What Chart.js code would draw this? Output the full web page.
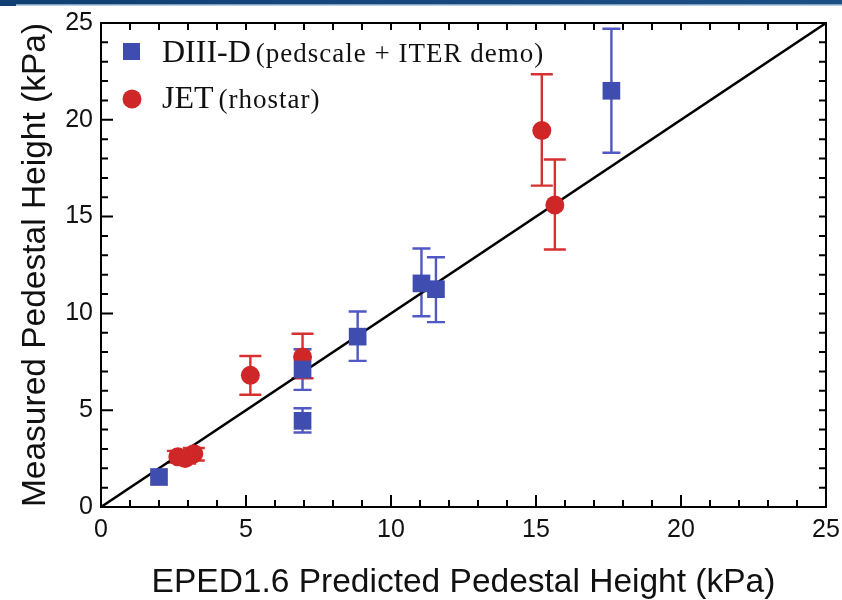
<!DOCTYPE html>
<html>
<head>
<meta charset="utf-8">
<script src="https://cdn.jsdelivr.net/npm/chart.js@4.4.1/dist/chart.umd.min.js"></script>
<style>
  html, body { margin: 0; padding: 0; background: #fff; }
  canvas { display: block; }
</style>
</head>
<body>
<canvas id="chart" width="842" height="600"></canvas>
<script>
// DIII-D shots: EPED1.6 prediction vs measured pedestal height (kPa)
const diiidX  = [2.0, 6.95, 6.95, 8.85, 11.05, 11.55, 17.6];
const diiidY  = [1.55, 7.1, 4.45, 8.8, 11.55, 11.25, 21.5];
const diiidLo = [1.55, 6.05, 3.85, 7.55, 9.85, 9.55, 18.3];
const diiidHi = [1.55, 8.15, 5.1, 10.1, 13.35, 12.9, 24.7];

// JET rhostar scan
const jetX  = [2.65, 2.9, 3.2, 5.15, 6.95, 15.2, 15.65];
const jetY  = [2.6, 2.5, 2.75, 6.8, 7.75, 19.45, 15.6];
const jetLo = [2.3, 2.25, 2.4, 5.8, 6.65, 16.6, 13.3];
const jetHi = [2.9, 2.8, 3.05, 7.8, 8.95, 22.35, 17.95];

// unity line
const unityX = [0, 25];
const unityY = [0, 25];

const axisMin = 0, axisMax = 25, majorStep = 5, minorStep = 1;

const legendNames = ['DIII-D', 'JET'];
const legendNotes = ['(pedscale + ITER demo)', '(rhostar)'];

const BLUE = '#3f4db0', BLUE_BAR = '#4f58c4';
const RED = '#cf2727', RED_BAR = '#d63030';

const zip = (xs, ys, lo, hi) => xs.map((x, i) => ({ x, y: ys[i], lo: lo ? lo[i] : null, hi: hi ? hi[i] : null }));

// top banner strip
const bannerPlugin = {
  id: 'banner',
  beforeDraw(chart) {
    const ctx = chart.ctx;
    ctx.save();
    ctx.fillStyle = '#fff';
    ctx.fillRect(0, 0, chart.width, chart.height);
    const g = ctx.createLinearGradient(0, 0, chart.width, 0);
    g.addColorStop(0, '#123f72');
    g.addColorStop(1, '#1c4f86');
    ctx.fillStyle = g;
    ctx.fillRect(0, 0, chart.width, 4);
    ctx.fillRect(0, 0, 16, 6);
    ctx.fillStyle = '#7d9fc4';
    ctx.fillRect(16, 4, chart.width - 16, 1.5);
    ctx.restore();
  }
};

// vertical error bars with caps, drawn under the markers
const errorBarPlugin = {
  id: 'errorBars',
  beforeDatasetsDraw(chart) {
    const ctx = chart.ctx;
    const xs = chart.scales.x, ys = chart.scales.y;
    ctx.save();
    chart.data.datasets.forEach(ds => {
      if (!ds.errorColor) return;
      ctx.strokeStyle = ds.errorColor;
      ctx.lineWidth = 2.4;
      const half = ds.capWidth / 2;
      ds.data.forEach(p => {
        if (p.lo == null || p.hi == null || p.hi - p.lo < 0.01) return;
        const px = xs.getPixelForValue(p.x);
        const pl = ys.getPixelForValue(p.lo);
        const ph = ys.getPixelForValue(p.hi);
        ctx.beginPath();
        ctx.moveTo(px, pl); ctx.lineTo(px, ph);
        ctx.moveTo(px - half, pl); ctx.lineTo(px + half, pl);
        ctx.moveTo(px - half, ph); ctx.lineTo(px + half, ph);
        ctx.stroke();
      });
    });
    ctx.restore();
  }
};

// closed frame with inward ticks on all four sides
const framePlugin = {
  id: 'frame',
  afterDraw(chart) {
    const ctx = chart.ctx;
    const a = chart.chartArea;
    const xs = chart.scales.x, ys = chart.scales.y;
    ctx.save();
    ctx.strokeStyle = '#000';
    ctx.lineWidth = 2;
    ctx.beginPath();
    for (let v = axisMin; v <= axisMax; v += minorStep) {
      const len = (v % majorStep === 0) ? 12 : 7;
      const px = xs.getPixelForValue(v);
      const py = ys.getPixelForValue(v);
      if (v !== axisMin && v !== axisMax) {
        ctx.moveTo(px, a.bottom); ctx.lineTo(px, a.bottom - len);
        ctx.moveTo(px, a.top); ctx.lineTo(px, a.top + 7);
        ctx.moveTo(a.left, py); ctx.lineTo(a.left + len, py);
        ctx.moveTo(a.right, py); ctx.lineTo(a.right - 7, py);
      }
    }
    ctx.stroke();
    ctx.strokeRect(a.left, a.top, a.right - a.left, a.bottom - a.top);
    ctx.restore();
  }
};

// legend with a roman name and a smaller note in brackets
const legendPlugin = {
  id: 'mixedLegend',
  afterDraw(chart) {
    const ctx = chart.ctx;
    const rows = [
      { y: 62, ds: chart.data.datasets[0] },
      { y: 108, ds: chart.data.datasets[1] }
    ];
    ctx.save();
    rows.forEach((r, i) => {
      ctx.fillStyle = r.ds.backgroundColor;
      if (r.ds.pointStyle === 'rect') {
        ctx.fillRect(123, r.y - 19, 17, 17);
      } else {
        ctx.beginPath();
        ctx.arc(132, r.y - 9, 9.5, 0, Math.PI * 2);
        ctx.fill();
      }
      ctx.fillStyle = '#111';
      ctx.textBaseline = 'alphabetic';
      ctx.textAlign = 'left';
      ctx.font = '32px "Liberation Serif", "Times New Roman", serif';
      ctx.fillText(legendNames[i], 162, r.y);
      const w = ctx.measureText(legendNames[i]).width;
      ctx.font = '27px "Liberation Serif", "Times New Roman", serif';
      ctx.letterSpacing = '1px';
      ctx.fillText(legendNotes[i], 162 + w + 5, r.y);
      ctx.letterSpacing = '0px';
    });
    ctx.restore();
  }
};

const tickFont = { family: '"Liberation Sans", Arial, Helvetica, sans-serif', size: 25 };
const titleFont = { family: '"Liberation Sans", Arial, Helvetica, sans-serif', size: 33.5 };

new Chart(document.getElementById('chart'), {
  type: 'scatter',
  data: {
    datasets: [
      {
        label: legendNames[0],
        data: zip(diiidX, diiidY, diiidLo, diiidHi),
        pointStyle: 'rect',
        pointRadius: 12.5,
        backgroundColor: BLUE,
        borderColor: BLUE,
        borderWidth: 0,
        errorColor: BLUE_BAR,
        capWidth: 18
      },
      {
        label: legendNames[1],
        data: zip(jetX, jetY, jetLo, jetHi),
        pointStyle: 'circle',
        pointRadius: 9.5,
        backgroundColor: RED,
        borderColor: RED,
        borderWidth: 0,
        errorColor: RED_BAR,
        capWidth: 22
      },
      {
        type: 'line',
        label: 'unity',
        data: zip(unityX, unityY),
        borderColor: '#000',
        borderWidth: 2.5,
        pointRadius: 0,
        fill: false
      }
    ]
  },
  options: {
    responsive: false,
    animation: false,
    events: [],
    layout: { padding: { left: 0, top: 23, right: 16, bottom: 0 } },
    plugins: {
      legend: { display: false },
      tooltip: { enabled: false }
    },
    scales: {
      x: {
        type: 'linear',
        min: axisMin, max: axisMax,
        grid: { display: false, drawTicks: false },
        border: { display: false },
        ticks: { stepSize: majorStep, font: tickFont, color: '#111', padding: 8, maxRotation: 0 },
        title: { display: true, text: 'EPED1.6 Predicted Pedestal Height (kPa)', font: titleFont, color: '#111', padding: { top: 0, bottom: -3 } },
        afterFit(scale) { scale.height = 93; scale.paddingLeft = 0; scale.paddingRight = 0; }
      },
      y: {
        type: 'linear',
        min: axisMin, max: axisMax,
        grid: { display: false, drawTicks: false },
        border: { display: false },
        ticks: { stepSize: majorStep, font: tickFont, color: '#111', padding: 8 },
        title: { display: true, text: 'Measured Pedestal Height (kPa)', font: titleFont, color: '#111', padding: { top: 16, bottom: 0 } },
        afterFit(scale) { scale.width = 101; scale.paddingTop = 0; scale.paddingBottom = 0; }
      }
    }
  },
  plugins: [bannerPlugin, errorBarPlugin, framePlugin, legendPlugin]
});
</script>
</body>
</html>
